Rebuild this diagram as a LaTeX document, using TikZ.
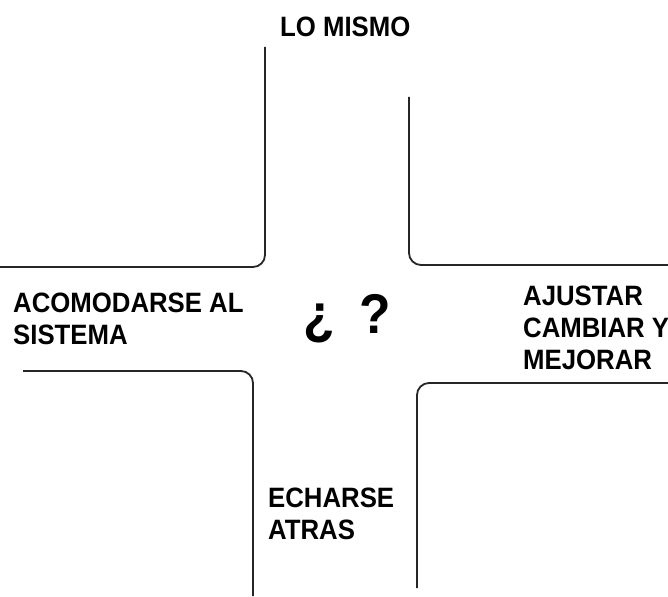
\documentclass[tikz,border=0pt]{standalone}
\usepackage{fontspec}
\newfontfamily\signfont[FakeStretch=0.92]{Liberation Sans}

\begin{document}
\begin{tikzpicture}[x=1pt, y=-1pt,
    curb/.style={line width=1.8pt, black!85, rounded corners=12pt},
    sign/.style={font=\signfont\bfseries\fontsize{28}{32}\selectfont, align=left, inner sep=0pt, anchor=base west}]
    \useasboundingbox (0,0) rectangle (668,596);

    % TOP STREET
    \draw[curb] (265,47) -- (265,267) -- (0,267);
    \draw[curb] (409,97) -- (409,265) -- (668,265);
    \node[sign] (recto) at (280,37) {LO MISMO};

    % LEFT STREET (base = last line)
    \node[sign] (izquierda) at (13,344) {ACOMODARSE AL\\SISTEMA};

    % RIGHT STREET
    \node[sign] (derecha) at (523,369) {AJUSTAR\\CAMBIAR Y\\MEJORAR};

    % BOTTOM STREET
    \draw[curb] (23,371) -- (253,371) -- (253,596);
    \draw[curb] (668,383) -- (417,383) -- (417,588);
    \node[sign] (atras) at (268,539) {ECHARSE\\ATRAS};

    % CROSSING
    \node[sign, anchor=base, font=\signfont\bfseries\fontsize{56}{60}\selectfont] (duda) at (347,333) {¿\hspace{10pt} ?};
\end{tikzpicture}
\end{document}
